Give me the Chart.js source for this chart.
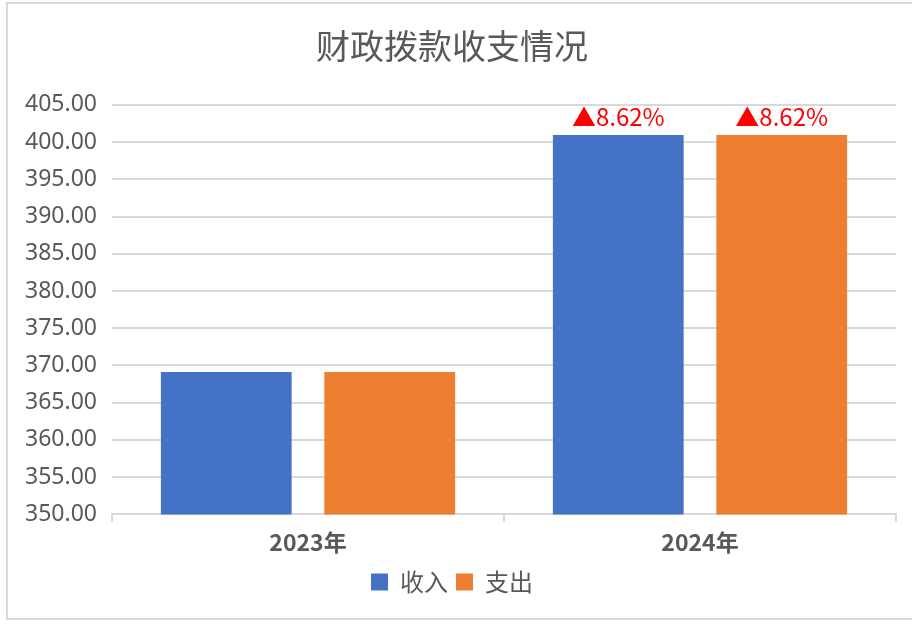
<!DOCTYPE html>
<html>
<head>
<meta charset="utf-8">
<script src="https://cdn.jsdelivr.net/npm/chart.js@4/dist/chart.umd.min.js"></script>
<style>
  html, body { margin: 0; padding: 0; background: #fff; }
  #wrap { position: absolute; left: 6px; top: 2px; width: 912px; height: 618px; border: 2px solid #d9d9d9; box-sizing: border-box; }
  canvas { position: absolute; left: 0; top: 0; }
</style>
</head>
<body>
<div id="wrap"></div>
<canvas id="chart" width="912" height="624"></canvas>
<script>
// data
const years = ['2023年', '2024年'];
const income = [369.12, 400.94];
const expense = [369.12, 400.94];
const growthLabels = ['', '▲8.62%'];
const yTicks = [350, 355, 360, 365, 370, 375, 380, 385, 390, 395, 400, 405];

const textGray = '#595959';
const gridGray = '#d9d9d9';

// draws the red growth label above each bar
const growthPlugin = {
    id: 'growthLabels',
    afterDatasetsDraw(chart) {
        const ctx = chart.ctx;
        ctx.save();
        ctx.fillStyle = '#ff0000';
        ctx.font = '24px "Noto Sans CJK SC"';
        ctx.textAlign = 'center';
        ctx.textBaseline = 'bottom';
        chart.data.datasets.forEach((ds, i) => {
            const meta = chart.getDatasetMeta(i);
            meta.data.forEach((bar, j) => {
                if (!growthLabels[j]) return;
                ctx.fillText(growthLabels[j], bar.x, bar.y - 6);
            });
        });
        ctx.restore();
    }
};

new Chart(document.getElementById('chart'), {
    type: 'bar',
    data: {
        labels: years,
        datasets: [
            { label: '收入', data: income, backgroundColor: '#4472C4' },
            { label: '支出', data: expense, backgroundColor: '#ED7D31' }
        ]
    },
    options: {
        responsive: false,
        animation: false,
        datasets: { bar: { categoryPercentage: 0.834, barPercentage: 0.8 } },
        layout: { padding: { left: 8, right: 16, top: 12, bottom: 20 } },
        plugins: {
            title: {
                display: true,
                text: '财政拨款收支情况',
                color: textGray,
                font: { family: '"Noto Sans CJK SC"', size: 34, weight: 'normal' },
                padding: { top: 14, bottom: 38 }
            },
            legend: {
                position: 'bottom',
                labels: {
                    color: textGray,
                    font: { family: '"Noto Sans CJK SC"', size: 24 },
                    boxWidth: 17,
                    boxHeight: 17,
                    padding: 8
                }
            },
            tooltip: { enabled: false }
        },
        scales: {
            x: {
                grid: { display: true, drawOnChartArea: false, drawTicks: true, tickLength: 8, color: gridGray, lineWidth: 2, offset: true },
                border: { color: gridGray, width: 2 },
                ticks: {
                    color: textGray,
                    font: { family: '"Noto Sans CJK SC"', size: 23, weight: 'bold' },
                    padding: 6
                }
            },
            y: {
                min: 350,
                max: 405,
                afterBuildTicks(scale) { scale.ticks = yTicks.map(v => ({ value: v })); },
                afterFit(scale) { scale.width = 104; },
                grid: { color: gridGray, lineWidth: 2, drawTicks: false },
                border: { display: false },
                ticks: {
                    color: textGray,
                    font: { family: '"Noto Sans"', size: 23 },
                    padding: 15,
                    callback: v => v.toFixed(2)
                }
            }
        }
    },
    plugins: [growthPlugin]
});
</script>
</body>
</html>
